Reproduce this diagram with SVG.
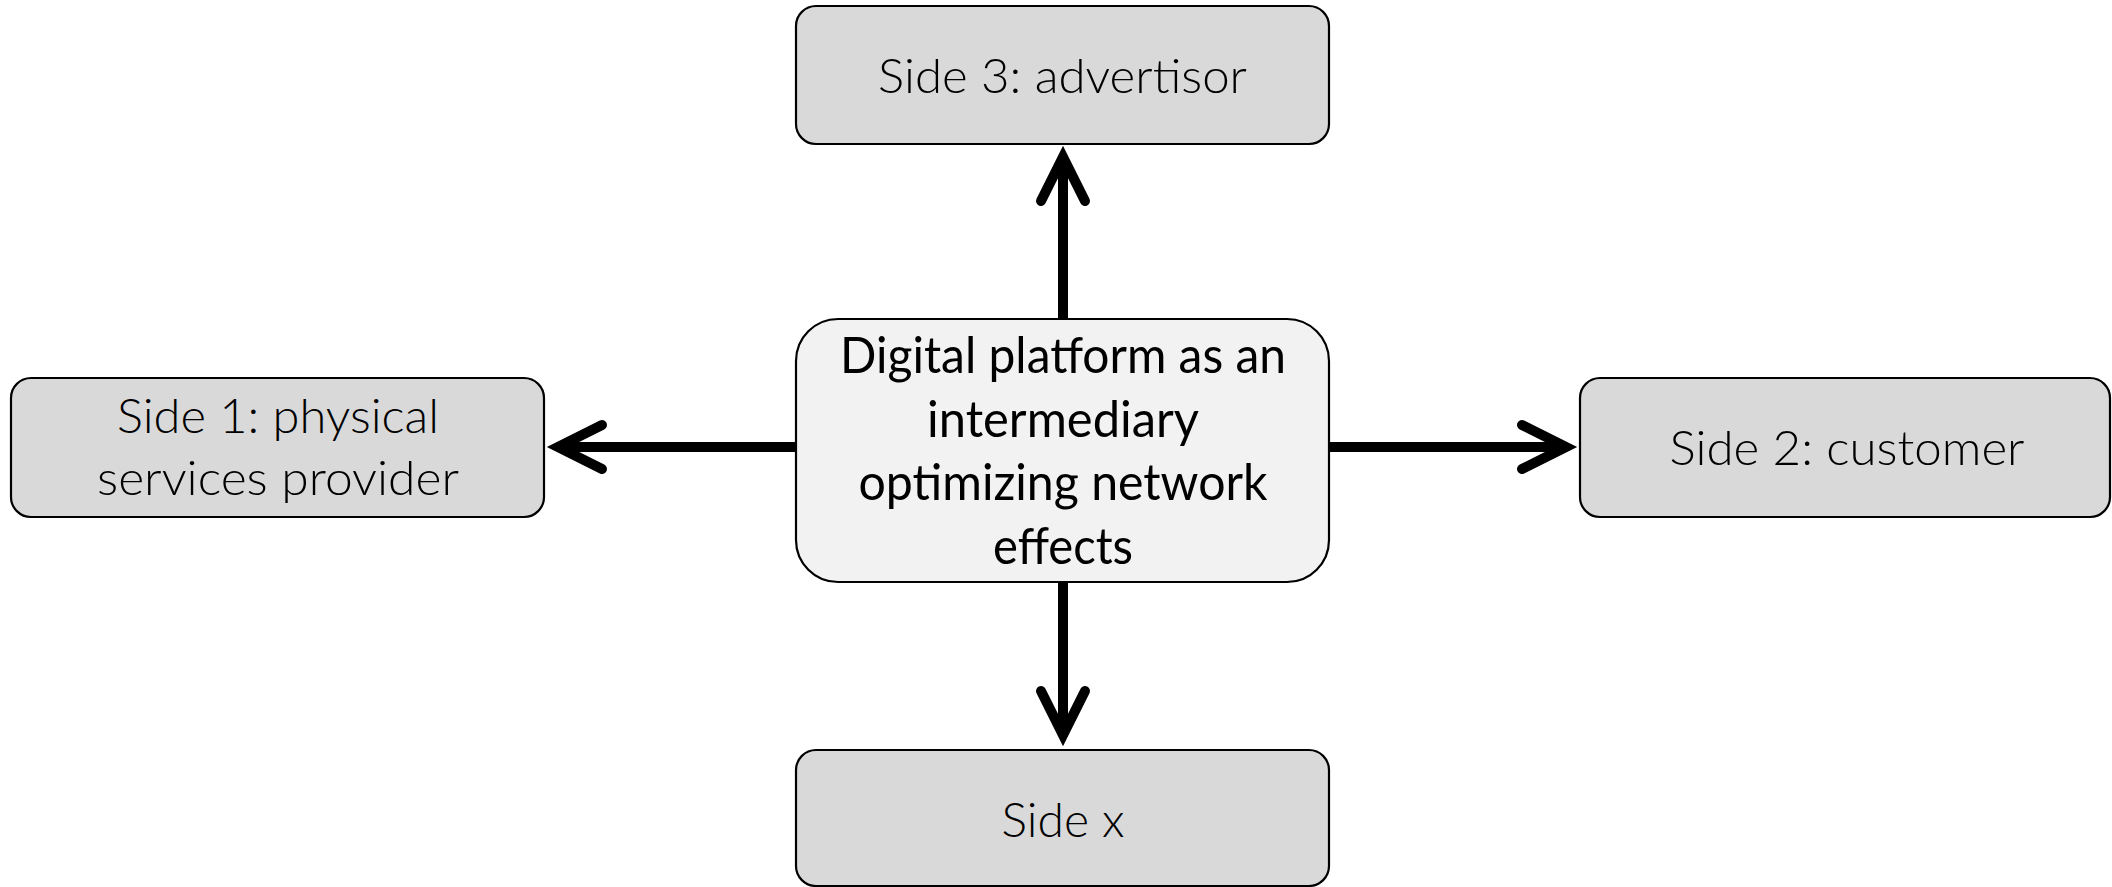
<svg xmlns="http://www.w3.org/2000/svg" width="2112" height="887" viewBox="0 0 2112 887">
<style>
.side rect{fill:#d9d9d9;stroke:#000;stroke-width:2.2}
.center rect{fill:#f2f2f2;stroke:#000;stroke-width:2.2}
.side text{font-family:Lato,"Open Sans","Liberation Sans",sans-serif;font-weight:300;font-size:47px;fill:#000;text-anchor:middle}
.center text{font-family:Lato,"Open Sans","Liberation Sans",sans-serif;font-weight:400;font-size:51px;fill:#000;text-anchor:middle}
.conn line{stroke:#000;stroke-width:10;fill:none}
</style>
<defs>
<marker id="chev" markerUnits="userSpaceOnUse" viewBox="-60 -30 75 60" markerWidth="75" markerHeight="60" refX="0" refY="0" orient="auto" overflow="visible">
<path d="M-44,-22 L0,0 L-44,22" fill="none" stroke="#000" stroke-width="10" stroke-linecap="round" stroke-linejoin="miter"/>
</marker>
</defs>
<rect width="2112" height="887" fill="#fff"/>
<g id="connectors" class="conn">
<line x1="1063" y1="319" x2="1063" y2="157" marker-end="url(#chev)"/>
<line x1="796" y1="447" x2="558" y2="447" marker-end="url(#chev)"/>
<line x1="1329" y1="447" x2="1566" y2="447" marker-end="url(#chev)"/>
<line x1="1063" y1="582" x2="1063" y2="735" marker-end="url(#chev)"/>
</g>
<g id="side3" class="side">
<rect x="796" y="6" width="533" height="138" rx="20"/>
<text x="1062.5" y="93" textLength="369" lengthAdjust="spacingAndGlyphs">Side 3: advertisor</text>
</g>
<g id="platform" class="center">
<rect x="796" y="319" width="533" height="263" rx="42"/>
<text x="1063" y="373" textLength="446" lengthAdjust="spacingAndGlyphs">Digital platform as an</text>
<text x="1063" y="437" textLength="272" lengthAdjust="spacingAndGlyphs">intermediary</text>
<text x="1063" y="500" textLength="409" lengthAdjust="spacingAndGlyphs">optimizing network</text>
<text x="1063" y="564" textLength="140" lengthAdjust="spacingAndGlyphs">effects</text>
</g>
<g id="side1" class="side">
<rect x="11" y="378" width="533" height="139" rx="20"/>
<text x="278" y="433" textLength="322" lengthAdjust="spacingAndGlyphs">Side 1: physical</text>
<text x="278" y="495" textLength="362" lengthAdjust="spacingAndGlyphs">services provider</text>
</g>
<g id="side2" class="side">
<rect x="1580" y="378" width="530" height="139" rx="20"/>
<text x="1847" y="465" textLength="355" lengthAdjust="spacingAndGlyphs">Side 2: customer</text>
</g>
<g id="sidex" class="side">
<rect x="796" y="750" width="533" height="136" rx="20"/>
<text x="1063" y="837" textLength="123" lengthAdjust="spacingAndGlyphs">Side x</text>
</g>
</svg>
